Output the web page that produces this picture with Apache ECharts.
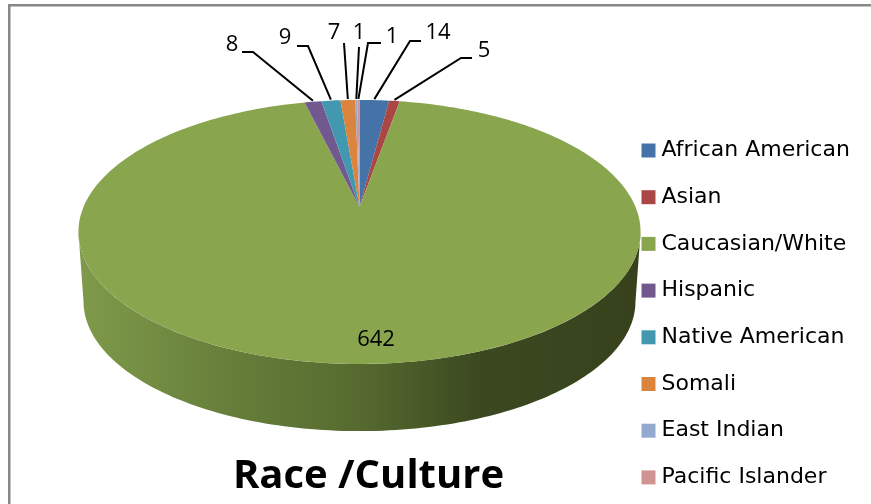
<!DOCTYPE html>
<html>
<head>
<meta charset="utf-8">
<style>
  html, body { margin: 0; padding: 0; background: #fff; }
  #chart { width: 871px; height: 504px; }
</style>
</head>
<body>
<div id="chart"></div>
<script src="https://cdn.jsdelivr.net/npm/echarts@6/dist/echarts.min.js"></script>
<script>
// data, clockwise from 12 o'clock
const categories = ['African American', 'Asian', 'Caucasian/White', 'Hispanic', 'Native American', 'Somali', 'East Indian', 'Pacific Islander'];
const values = [14, 5, 642, 8, 9, 7, 1, 1];
const colors = ['#4572a7', '#aa4643', '#89a54e', '#71588f', '#4198af', '#db843d', '#93a9cf', '#d19392'];

// where each value label sits, and the leader elbow (null = no elbow)
const labelSpots = [[438, 33], [484, 51], [376, 340], [232, 45], [285, 38], [334, 33], [359, 33], [392, 37]];
const leaderStubs = [[[421, 41], [410, 41]], [[472, 58], [461, 58]], null, [[242, 52], [253, 52]], [[297, 46], [308, 46]], [[344, 43]], [[359, 47]], [[381, 43], [368, 43]]];

const total = values.reduce((a, b) => a + b, 0);

// tilted disc: a circle through a simple perspective, so the slices meet behind the ellipse centre
const cx = 359.5, topY = 207, k = 0.189;
const topRim = { a: 276, b: 127.3, y: topY };
const lowRim = { a: 271, b: 125, y: 277 };

function rim(r, t) {
  const w = 1 + k * Math.cos(t);
  return [cx + r.a * Math.sin(t) / w, r.y - r.b * Math.cos(t) / w];
}

function arc(r, from, to) {
  const pts = [];
  const n = Math.max(2, Math.ceil(Math.abs(to - from) / 0.02));
  for (let i = 0; i <= n; i++) pts.push(rim(r, from + (to - from) * i / n));
  return pts;
}

// only the part of the wall between the two silhouette points shows
const wallFrom = Math.acos(-k), wallTo = 2 * Math.PI - wallFrom;

function renderSlice(idx) {
  return function (params, api) {
    const before = values.slice(0, idx).reduce((a, b) => a + b, 0);
    const start = before / total * 2 * Math.PI;
    const end = start + api.value(0) / total * 2 * Math.PI;
    const children = [];

    const a0 = Math.max(start, wallFrom), a1 = Math.min(end, wallTo);
    if (a1 > a0) {
      children.push({
        type: 'polygon',
        shape: { points: arc(topRim, a0, a1).concat(arc(lowRim, a1, a0)) },
        style: {
          fill: new echarts.graphic.LinearGradient(0, 0, 1, 0, [
            { offset: 0, color: '#7f9a4a' },
            { offset: 0.25, color: '#68803b' },
            { offset: 0.5, color: '#566a2f' },
            { offset: 0.72, color: '#3b4820' },
            { offset: 1, color: '#37421c' }
          ])
        }
      });
    }

    children.push({
      type: 'polygon',
      shape: { points: [[cx, topY]].concat(arc(topRim, start, end)) },
      style: { fill: api.visual('color') }
    });

    const mid = rim(topRim, (start + end) / 2);
    const stub = leaderStubs[idx];
    if (stub) {
      children.push({
        type: 'polyline',
        shape: { points: stub.concat([[mid[0], mid[1] - 1]]) },
        style: { stroke: '#000', lineWidth: 2, fill: 'none' }
      });
    }
    children.push({
      type: 'text',
      style: {
        text: String(api.value(0)),
        x: labelSpots[idx][0],
        y: labelSpots[idx][1],
        align: 'center',
        verticalAlign: 'middle',
        font: '22px "Open Sans"',
        fill: '#000'
      }
    });
    return { type: 'group', children: children };
  };
}

const myChart = echarts.init(document.getElementById('chart'), null, { renderer: 'canvas' });

myChart.setOption({
  animation: false,
  backgroundColor: '#fff',
  title: {
    text: 'Race /Culture',
    left: 363.5,
    top: 452,
    textAlign: 'center',
    textStyle: { fontFamily: 'Open Sans', fontWeight: 'bold', fontSize: 40, color: '#000' }
  },
  legend: {
    orient: 'vertical',
    left: 641.5,
    top: 139.5,
    height: 360,
    padding: 0,
    icon: 'rect',
    itemWidth: 14,
    itemHeight: 14,
    itemGap: 24.7,
    selectedMode: false,
    data: categories,
    textStyle: { fontFamily: 'DejaVu Sans', fontSize: 22, color: '#000', lineHeight: 22, padding: [0, 0, 0, 1] }
  },
  graphic: [
    { type: 'rect', shape: { x: 8, y: 4, width: 863, height: 2.5 }, style: { fill: '#888' }, silent: true },
    { type: 'rect', shape: { x: 8, y: 4, width: 2.5, height: 500 }, style: { fill: '#888' }, silent: true }
  ],
  series: categories.map((name, i) => ({
    name: name,
    type: 'custom',
    coordinateSystem: 'none',
    itemStyle: { color: colors[i] },
    renderItem: renderSlice(i),
    data: [[values[i]]]
  }))
});
</script>
</body>
</html>
